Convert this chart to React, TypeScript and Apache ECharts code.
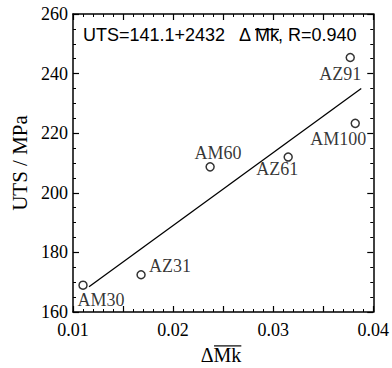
import React, { useEffect, useRef } from "react";
import * as echarts from "echarts";

// ---- data ----
const alloys = ["AM30", "AZ31", "AM60", "AZ61", "AM100", "AZ91"];
const deltaMk = [0.011, 0.0168, 0.0237, 0.0315, 0.0382, 0.0377];
const utsValues = [169, 172.5, 208.7, 212, 223.3, 245.4];
const fitX = [0.0116, 0.0388];
const fitY = [168.5, 235];
const xTicks = [0.01, 0.02, 0.03, 0.04];
const yTicks = [160, 180, 200, 220, 240, 260];
const equationParts = ["UTS=141.1+2432", "Δ", "Mk", ", R=0.940"];
const xNameParts = ["Δ", "Mk"];
const yName = "UTS / MPa";

// layout (style only)
const labelOffsets: [number, number][] = [
  [18, 15],
  [29, -9],
  [8, -14],
  [-11, 12],
  [-17, 16],
  [-10, 16],
];
const equationX = [83, 239, 255, 278];

const SERIF = "'Liberation Serif', 'Times New Roman', Times, serif";

function measure(text: string, font: string): number {
  const c = document.createElement("canvas");
  const ctx = c.getContext("2d")!;
  ctx.font = font;
  return ctx.measureText(text).width;
}

export default function App() {
  const ref = useRef<HTMLDivElement>(null);
  useEffect(() => {
    if (!ref.current) return;
    const chart = echarts.init(ref.current, undefined, { renderer: "svg" });

    // equation text geometry
    const eqSize = 18;
    const eqFont = `${eqSize}px "Liberation Sans"`;
    const eqY = 35;
    const wMk = measure(equationParts[2], eqFont);
    const eqOverY = 29.5;

    // x-axis name geometry
    const xnSize = 20;
    const xnFont = `${xnSize}px "Liberation Serif"`;
    const xnCx = 221;
    const xnY = 355;
    const xa = measure(xNameParts[0], xnFont);
    const xb = measure(xNameParts[1], xnFont);
    const xnLeft = xnCx - (xa + xb) / 2;
    const xnOverY = xnY - xnSize * 0.33 - 2.5;

    const axisCommon = {
      axisLine: { show: true, lineStyle: { color: "#000", width: 1.5 } },
      splitLine: { show: false },
    };
    const tickStyle = { show: true, inside: true, length: 6, lineStyle: { color: "#000", width: 1.2 } };
    const xStep = (xTicks[1] - xTicks[0]) / 2;

    const xBase = {
      type: "value",
      min: xTicks[0],
      max: xTicks[xTicks.length - 1],
      interval: xStep,
      ...axisCommon,
      axisTick: tickStyle,
      minorTick: { show: true, splitNumber: 5, length: 3, lineStyle: { color: "#000", width: 1 } },
    };
    const yBase = {
      type: "value",
      min: yTicks[0],
      max: yTicks[yTicks.length - 1],
      interval: yTicks[1] - yTicks[0],
      ...axisCommon,
      axisTick: tickStyle,
      minorTick: { show: true, splitNumber: 4, length: 3, lineStyle: { color: "#000", width: 1 } },
    };

    const option: any = {
      animation: false,
      backgroundColor: "#fff",
      textStyle: { fontFamily: SERIF },
      grid: { left: 73, right: 16, top: 14, bottom: 56 },
      xAxis: [
        {
          ...xBase,
          axisLabel: {
            color: "#000",
            fontFamily: SERIF,
            fontSize: 18,
            margin: 9,
            formatter: (v: number) => {
              const t = xTicks.find((k) => Math.abs(k - v) < 1e-9);
              return t === undefined ? "" : t.toFixed(2);
            },
          },
        },
        { ...xBase, position: "top", axisLabel: { show: false } },
      ],
      yAxis: [
        {
          ...yBase,
          axisLabel: { color: "#000", fontFamily: SERIF, fontSize: 18, margin: 5 },
          name: yName,
          nameLocation: "middle",
          nameGap: 43,
          nameRotate: 90,
          nameTextStyle: { color: "#000", fontFamily: SERIF, fontSize: 21 },
        },
        { ...yBase, position: "right", axisLabel: { show: false } },
      ],
      series: [
        {
          type: "line",
          xAxisIndex: 0,
          yAxisIndex: 0,
          data: fitX.map((x, i) => [x, fitY[i]]),
          symbol: "none",
          lineStyle: { color: "#000", width: 1.3 },
          silent: true,
          z: 2,
        },
        {
          type: "scatter",
          xAxisIndex: 0,
          yAxisIndex: 0,
          symbol: "circle",
          symbolSize: 8,
          itemStyle: { color: "#fff", borderColor: "#000", borderWidth: 1.5 },
          z: 3,
          data: alloys.map((name, i) => ({
            value: [deltaMk[i], utsValues[i]],
            name,
            label: { offset: labelOffsets[i] },
          })),
          label: {
            show: true,
            position: "inside",
            formatter: (p: any) => p.name,
            color: "#000",
            fontFamily: SERIF,
            fontSize: 18,
          },
        },
      ],
      graphic: [
        ...equationParts.map((t, i) => ({
          type: "text",
          x: equationX[i],
          y: eqY,
          style: {
            text: t,
            font: eqFont,
            fill: "#000",
            textAlign: "left",
            textVerticalAlign: "middle",
          },
        })),
        {
          type: "line",
          shape: { x1: equationX[2], y1: eqOverY, x2: equationX[2] + wMk, y2: eqOverY },
          style: { stroke: "#000", lineWidth: 1.4 },
        },
        {
          type: "text",
          x: xnLeft,
          y: xnY,
          style: {
            text: xNameParts.join(""),
            font: xnFont,
            fill: "#000",
            textAlign: "left",
            textVerticalAlign: "middle",
          },
        },
        {
          type: "line",
          shape: { x1: xnLeft + xa + 0.5, y1: xnOverY, x2: xnLeft + xa + xb, y2: xnOverY },
          style: { stroke: "#000", lineWidth: 1.2 },
        },
      ],
    };

    chart.setOption(option);
    return () => chart.dispose();
  }, []);

  return (
    <div
      ref={ref}
      style={{ position: "fixed", left: 0, top: 0, width: 392, height: 368, background: "#fff" }}
    />
  );
}
